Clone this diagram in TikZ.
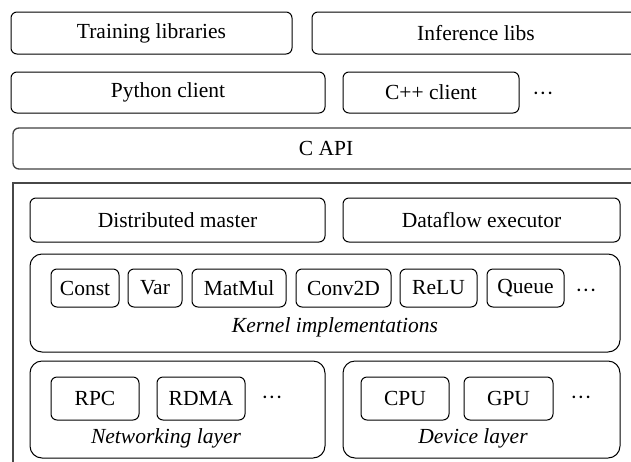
\documentclass[tikz,border=0pt]{standalone}
\usepackage{fontspec}
\setmainfont{Liberation Serif}
\newcommand{\moredots}{\textperiodcentered\textperiodcentered\textperiodcentered}
\begin{document}
\begin{tikzpicture}[x=1pt,y=-1pt,
  txt/.style={font=\fontsize{21.5}{25}\selectfont},
  box/.style={txt, draw, rounded corners=6pt, line width=1pt, inner sep=0pt},
  small/.style={box, minimum height=38pt},
  big/.style={draw, rounded corners=12pt, line width=1pt},
  frame/.style={draw=black!72, line width=1.4pt},
  more/.style={txt, inner sep=0pt},
  caption/.style={txt, font=\fontsize{21.5}{25}\selectfont\itshape, inner sep=0pt}]
\useasboundingbox (0,0) rectangle (631,461);
\clip (0,0) rectangle (631,461);

% client libraries
\node[box, minimum width=281pt, minimum height=42pt] (train) at (151.5,33) {Training libraries};
\node[box, minimum width=328pt, minimum height=42pt] (infer) at (476,33) {Inference libs};
\node[box, minimum width=314pt, minimum height=41pt] (py) at (168,92.5) {Python client};
\node[box, minimum width=176pt, minimum height=41pt] (cpp) at (431,92.5) {C++ client};
\node[more] (clientmore) at (543,96) {\moredots};
\node[box, draw=black!75, line width=1.3pt, minimum width=626pt, minimum height=41pt] (capi) at (326,148.5) {C API};

% runtime frame
\draw[frame] (13,470) -- (13,183) -- (645,183);

\node[box, minimum width=295pt, minimum height=44pt] (master) at (177.5,220) {Distributed master};
\node[box, minimum width=277pt, minimum height=44pt] (exec) at (481.5,220) {Dataflow executor};

% kernels
\draw[big] (30,254) rectangle (620,352);
\node[small, minimum width=68pt] (const) at (85,288) {Const};
\node[small, minimum width=54pt] (var) at (155,288) {Var};
\node[small, minimum width=94pt] (matmul) at (239,288) {MatMul};
\node[small, minimum width=95pt] (conv) at (343.5,288) {Conv2D};
\node[small, minimum width=77pt] (relu) at (438.5,288) {ReLU};
\node[small, minimum width=77pt] (queue) at (525.5,288) {Queue};
\node[more] (kernmore) at (586,293) {\moredots};
\node[caption] (kernlabel) at (335,327) {Kernel implementations};

% networking layer
\draw[big] (30,361) rectangle (325,458);
\node[box, minimum width=88pt, minimum height=43pt] (rpc) at (95,398.5) {RPC};
\node[box, minimum width=88pt, minimum height=43pt] (rdma) at (201,398.5) {RDMA};
\node[more] (netmore) at (272,400) {\moredots};
\node[caption] (netlabel) at (166,438) {Networking layer};

% device layer
\draw[big] (343,361) rectangle (620,458);
\node[box, minimum width=88pt, minimum height=43pt] (cpu) at (405,398.5) {CPU};
\node[box, minimum width=89pt, minimum height=43pt] (gpu) at (508.5,398.5) {GPU};
\node[more] (devmore) at (581,400) {\moredots};
\node[caption] (devlabel) at (473,438) {Device layer};
\end{tikzpicture}
\end{document}
